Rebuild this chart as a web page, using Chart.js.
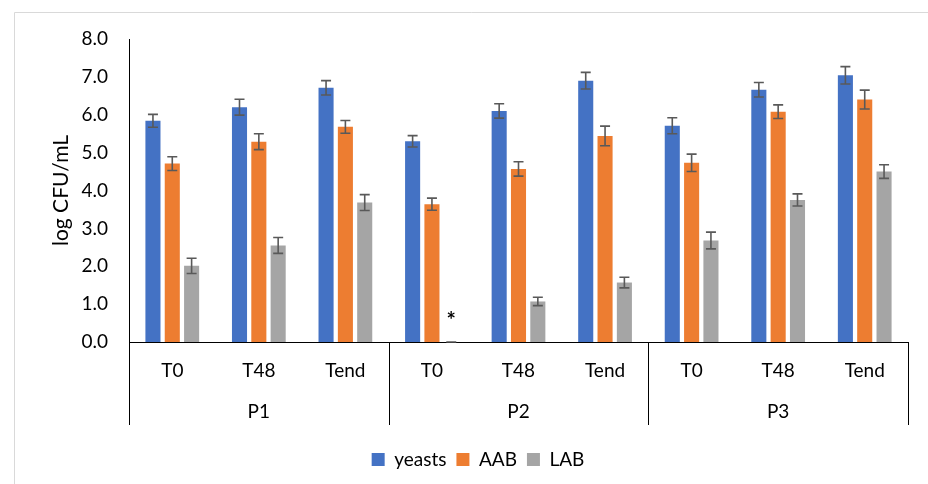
<!DOCTYPE html>
<html>
<head>
<meta charset="utf-8">
<script src="https://cdn.jsdelivr.net/npm/chart.js@4.4.0/dist/chart.umd.min.js"></script>
<style>
  html, body { margin: 0; padding: 0; background: #fff; }
  #wrap { width: 928px; height: 484px; }
</style>
</head>
<body>
<div id="wrap"><canvas id="chart" width="928" height="484"></canvas></div>
<script>
// groups on the x axis
const phases = ["P1", "P2", "P3"];
const timePoints = ["T0", "T48", "Tend"];
const yTicks = [0, 1, 2, 3, 4, 5, 6, 7, 8];

// log CFU/mL, order P1 T0..Tend, P2 T0..Tend, P3 T0..Tend
const yeasts    = [5.84, 6.20, 6.71, 5.30, 6.10, 6.90, 5.71, 6.66, 7.04];
const yeastsErr = [0.17, 0.21, 0.19, 0.15, 0.19, 0.22, 0.21, 0.19, 0.23];
const aab       = [4.71, 5.29, 5.68, 3.64, 4.57, 5.44, 4.73, 6.08, 6.40];
const aabErr    = [0.18, 0.21, 0.17, 0.16, 0.19, 0.26, 0.23, 0.18, 0.25];
const lab       = [2.01, 2.55, 3.68, 0.00, 1.07, 1.57, 2.68, 3.75, 4.50];
const labErr    = [0.20, 0.21, 0.21, 0.00, 0.11, 0.14, 0.22, 0.16, 0.18];

// LAB not detected in P2 T0
const starMarks = [{ dataset: 2, index: 3 }];

const labels = phases.flatMap(function() { return timePoints; });
const fontFamily = "Lato, 'Open Sans', sans-serif";
const fontSize = 19;

const frameLines = {
  id: "frameLines",
  beforeDraw(chart) {
    const ctx = chart.ctx;
    ctx.save();
    ctx.strokeStyle = "#d9d9d9";
    ctx.lineWidth = 1;
    ctx.beginPath();
    ctx.moveTo(14.5, chart.height);
    ctx.lineTo(14.5, 12.5);
    ctx.lineTo(chart.width, 12.5);
    ctx.stroke();
    ctx.restore();
  }
};

// nudge the legend a little right, like the original
const legendShift = {
  id: "legendShift",
  afterLayout(chart) {
    chart.legend.left += 24;
    chart.legend.right += 24;
  }
};

const errorBars = {
  id: "errorBars",
  afterDatasetsDraw(chart) {
    const ctx = chart.ctx;
    const y = chart.scales.y;
    ctx.save();
    ctx.strokeStyle = "#595959";
    ctx.lineWidth = 1.6;
    chart.data.datasets.forEach(function(ds, di) {
      const meta = chart.getDatasetMeta(di);
      meta.data.forEach(function(bar, i) {
        const v = ds.data[i];
        const e = ds.errors[i];
        const top = y.getPixelForValue(v + e);
        const bot = y.getPixelForValue(Math.max(v - e, 0));
        const half = 5;
        ctx.beginPath();
        ctx.moveTo(bar.x, top);
        ctx.lineTo(bar.x, bot);
        ctx.moveTo(bar.x - half, top);
        ctx.lineTo(bar.x + half, top);
        ctx.moveTo(bar.x - half, bot);
        ctx.lineTo(bar.x + half, bot);
        ctx.stroke();
      });
    });
    // asterisk marks
    ctx.fillStyle = "#000";
    ctx.font = "bold 22px " + fontFamily;
    ctx.textAlign = "center";
    ctx.textBaseline = "alphabetic";
    starMarks.forEach(function(m) {
      const bar = chart.getDatasetMeta(m.dataset).data[m.index];
      ctx.fillText("*", bar.x, y.getPixelForValue(0) - 14);
    });
    ctx.restore();
  }
};

const groupDividers = {
  id: "groupDividers",
  afterDraw(chart) {
    const ctx = chart.ctx;
    const x = chart.scales.x;
    const bottom = chart.scales.x2.top + 45;
    const per = timePoints.length;
    const xs = [x.left, x.right];
    for (let k = 1; k < phases.length; k++) {
      xs.push((x.getPixelForValue(k * per - 1) + x.getPixelForValue(k * per)) / 2);
    }
    ctx.save();
    ctx.strokeStyle = "#000";
    ctx.lineWidth = 1;
    ctx.beginPath();
    xs.forEach(function(px) {
      const p = Math.round(px) + 0.5;
      ctx.moveTo(p, x.top);
      ctx.lineTo(p, bottom);
    });
    ctx.stroke();
    ctx.restore();
  }
};

const ctx = document.getElementById("chart").getContext("2d");
new Chart(ctx, {
  type: "bar",
  data: {
    labels: labels,
    datasets: [
      { label: "yeasts", data: yeasts, errors: yeastsErr, backgroundColor: "#4472C4" },
      { label: "AAB", data: aab, errors: aabErr, backgroundColor: "#ED7D31" },
      { label: "LAB", data: lab, errors: labErr, backgroundColor: "#A5A5A5" }
    ]
  },
  options: {
    responsive: false,
    animation: false,
    datasets: {
      bar: { categoryPercentage: 0.67, barPercentage: 0.78, borderWidth: 0 }
    },
    layout: { padding: { top: 39, right: 20, bottom: 5, left: 0 } },
    plugins: {
      tooltip: { enabled: false },
      legend: {
        position: "bottom",
        labels: {
          boxWidth: 13,
          boxHeight: 13,
          padding: 10,
          color: "#000",
          font: { family: fontFamily, size: fontSize }
        }
      }
    },
    scales: {
      x: {
        type: "category",
        grid: { display: false, drawTicks: false },
        border: { display: true, color: "#000", width: 1 },
        ticks: { color: "#000", padding: 17, maxRotation: 0, autoSkip: false, font: { family: fontFamily, size: fontSize } },
        afterFit: function(scale) { scale.height = 38; }
      },
      x2: {
        type: "category",
        labels: phases,
        position: "bottom",
        offset: true,
        grid: { display: false, drawTicks: false },
        border: { display: false },
        ticks: { color: "#000", padding: 20, maxRotation: 0, font: { family: fontFamily, size: fontSize } },
        afterFit: function(scale) { scale.height = 60; }
      },
      y: {
        min: 0,
        max: 8,
        grid: { display: false, drawTicks: false },
        border: { display: true, color: "#000", width: 1 },
        afterBuildTicks: function(scale) { scale.ticks = yTicks.map(function(v) { return { value: v }; }); },
        ticks: {
          color: "#000",
          padding: 21,
          font: { family: fontFamily, size: fontSize },
          callback: function(v) { return Number(v).toFixed(1); }
        },
        title: {
          display: true,
          text: "log CFU/mL",
          color: "#000",
          font: { family: fontFamily, size: 21 },
          padding: { top: 49, bottom: 0 }
        },
        afterFit: function(scale) { scale.width = 129; }
      }
    }
  },
  plugins: [frameLines, legendShift, errorBars, groupDividers]
});
</script>
</body>
</html>
